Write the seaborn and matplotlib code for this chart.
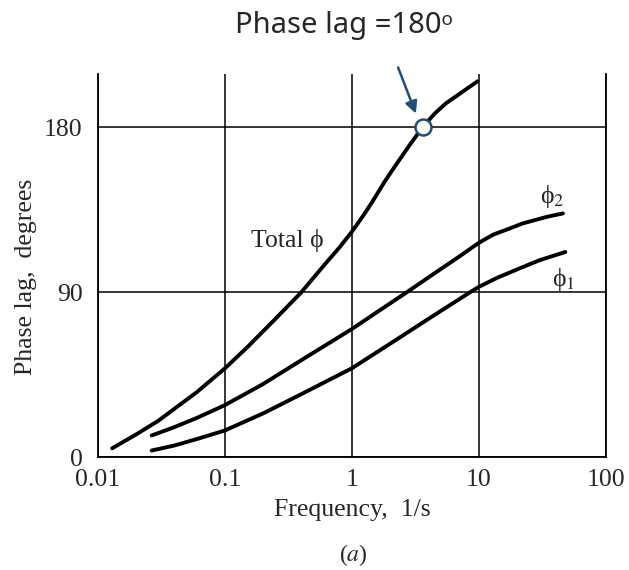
import numpy as np
import pandas as pd
import matplotlib
import matplotlib.pyplot as plt
import seaborn as sns

# values (frequency in 1/s, phase lag in degrees)
total_f = [0.013, 0.02, 0.03, 0.041, 0.06, 0.1, 0.15, 0.25, 0.4, 0.6, 0.8, 1.0, 1.25,
           1.5, 1.8, 2.2, 2.8, 3.6, 4.5, 5.5, 7.5, 9.75]
total_deg = [5, 12.5, 20, 27, 35.5, 48.5, 60, 75.5, 90, 104.5, 114.5, 123, 132.5,
             141, 150, 159, 169.5, 180, 187.5, 193, 199.5, 205]

phi2_f = [0.0266, 0.04, 0.06, 0.1, 0.2, 0.4, 0.65, 1.0, 1.6, 2.7, 4.5, 7.0,
          10.0, 13.0, 17.0, 22.0, 28.0, 35.0, 45.8]
phi2_deg = [12, 16.5, 21.5, 28.5, 40, 53, 62, 70, 79.5, 90, 100.5, 109.5,
            117, 121.5, 124.5, 127.5, 129.5, 131.3, 133]

phi1_f = [0.0266, 0.04, 0.06, 0.1, 0.2, 0.4, 1.0, 2.0, 4.0, 8.5, 10.0, 14.0,
          20.0, 30.0, 47.9]
phi1_deg = [3.8, 6.5, 10, 14.7, 24, 34.5, 48.6, 62, 75.5, 90, 93, 98,
            102.5, 107.5, 112]

x_ticks = [0.01, 0.1, 1, 10, 100]
x_ticklabels = ['0.01', '0.1', '1', '10', '100']
y_ticks = [0, 90, 180]

marker_f, marker_deg = 3.6, 180

curves = pd.concat([
    pd.DataFrame({'f': total_f, 'deg': total_deg, 'curve': 'total'}),
    pd.DataFrame({'f': phi2_f, 'deg': phi2_deg, 'curve': 'phi2'}),
    pd.DataFrame({'f': phi1_f, 'deg': phi1_deg, 'curve': 'phi1'}),
])

sns.set_style('white')
plt.rcParams['font.family'] = ['Liberation Serif', 'DejaVu Serif']
plt.rcParams['mathtext.fontset'] = 'stix'

fig = plt.figure(figsize=(6.29, 5.70), dpi=100)
ax = fig.add_axes([0.1553, 0.1974, 0.8081, 0.6728])

sns.lineplot(data=curves, x='f', y='deg', units='curve', estimator=None,
             color='black', linewidth=2.8, ax=ax, sort=False,
             solid_capstyle='round', solid_joinstyle='round')

ax.set_xscale('log')
ax.set_xlim(0.01, 100)
ax.set_ylim(0, 209)
ax.set_xticks(x_ticks)
ax.set_xticklabels(x_ticklabels)
ax.set_yticks(y_ticks)
ax.minorticks_off()
ax.tick_params(length=0, labelsize=18.5)
ax.tick_params(axis='x', pad=8)
ax.tick_params(axis='y', pad=11)
ax.grid(True, color='black', linewidth=1.1)
ax.set_axisbelow(True)

for side in ['left', 'bottom', 'right']:
    ax.spines[side].set_visible(True)
    ax.spines[side].set_color('black')
    ax.spines[side].set_linewidth(1.3)
ax.spines['top'].set_visible(False)

ax.set_xlabel('Frequency,  1/s', fontsize=18.5, labelpad=6)
ax.set_ylabel('Phase lag,  degrees', fontsize=18.5)
ax.yaxis.set_label_coords(-0.12, 0.47)

ax.text(0.31, 118.5, 'Total ϕ', fontsize=18.5, ha='center', va='center')
ax.text(37.6, 142, 'ϕ$_2$', fontsize=18.5, ha='center', va='center')
ax.text(46, 97, 'ϕ$_1$', fontsize=18.5, ha='center', va='center')

fig.text(0.561, 1 - 555 / 570, '($a$)', fontsize=17, ha='center', va='center')

# highlighted crossing of 180 degrees
navy = '#1F4E79'
ax.annotate('', xy=(3.25, 186), xytext=(2.27, 214),
            arrowprops=dict(arrowstyle='-|>', color=navy, lw=1.8, mutation_scale=18),
            annotation_clip=False)
ax.plot([marker_f], [marker_deg], marker='o', ms=11.5, mfc='white',
        mec=navy, mew=1.8, zorder=5)

fig.text(0.547, 1 - 25 / 570, 'Phase lag =180ᵒ', fontsize=21,
         ha='center', va='center', family=['Noto Sans', 'DejaVu Sans'])

plt.savefig('out.png', dpi=100)
